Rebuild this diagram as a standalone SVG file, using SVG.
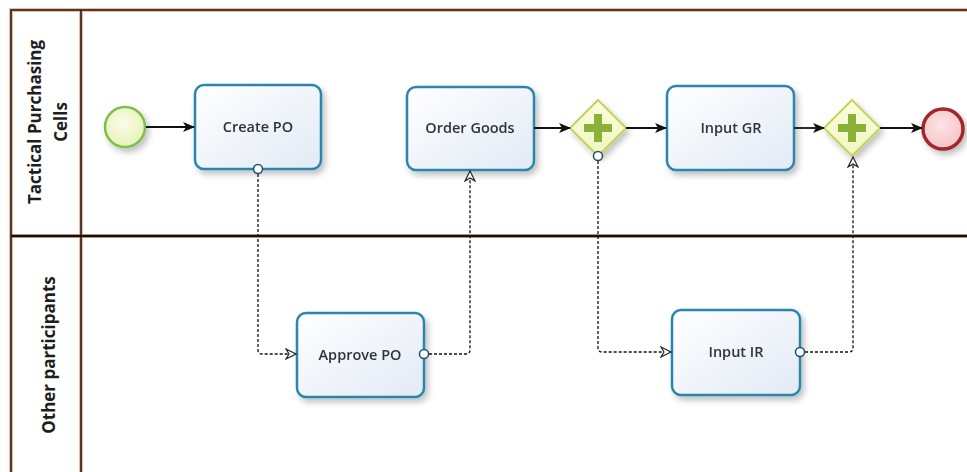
<svg xmlns="http://www.w3.org/2000/svg" width="967" height="472" viewBox="0 0 967 472">
<defs>
<linearGradient id="taskFill" x1="0" y1="0" x2="1" y2="1">
<stop offset="0" stop-color="#ffffff"/>
<stop offset="1" stop-color="#e2eaf5"/>
</linearGradient>
<radialGradient id="startFill" cx="0.45" cy="0.4" r="0.6">
<stop offset="0" stop-color="#fbfde8"/>
<stop offset="1" stop-color="#e6f2b8"/>
</radialGradient>
<radialGradient id="endFill" cx="0.45" cy="0.4" r="0.6">
<stop offset="0" stop-color="#fde4e6"/>
<stop offset="1" stop-color="#f6c4c8"/>
</radialGradient>
<linearGradient id="gwFill" x1="0" y1="0" x2="0" y2="1">
<stop offset="0" stop-color="#fbfde0"/>
<stop offset="1" stop-color="#f0f6c0"/>
</linearGradient>
<filter id="shadow" x="-20%" y="-20%" width="150%" height="150%">
<feGaussianBlur in="SourceAlpha" stdDeviation="3"/>
<feOffset dx="3" dy="4" result="b"/>
<feComponentTransfer><feFuncA type="linear" slope="0.25"/></feComponentTransfer>
<feMerge><feMergeNode/><feMergeNode in="SourceGraphic"/></feMerge>
</filter>
<marker id="seqArrow" markerWidth="12" markerHeight="10" refX="11" refY="5" orient="auto" markerUnits="userSpaceOnUse">
<path d="M0,0 L12,5 L0,10 L3,5 Z" fill="#111"/>
</marker>
<marker id="msgArrow" markerWidth="13" markerHeight="12" refX="11" refY="6" orient="auto" markerUnits="userSpaceOnUse">
<path d="M1,1 L11,6 L1,11 L4,6 Z" fill="#fff" stroke="#222" stroke-width="1.2"/>
</marker>
<marker id="msgStart" markerWidth="12" markerHeight="12" refX="6" refY="6" orient="auto" markerUnits="userSpaceOnUse">
<circle cx="6" cy="6" r="4.5" fill="#fff" stroke="#1d4f6a" stroke-width="1.5"/>
</marker>
</defs>
<style>
.halo{stroke:#f6b9a0;fill:none}
.frame{stroke:#111;fill:none}
.task rect{fill:url(#taskFill);stroke:#2b86ad;stroke-width:2.5}
.task text{font-family:"Open Sans","Noto Sans",sans-serif;font-size:14.5px;font-weight:600;fill:#2c3440;text-anchor:middle}
.lane{font-family:"Open Sans","Noto Sans",sans-serif;font-size:17px;font-weight:bold;fill:#1e1e1e;text-anchor:middle}
.seq{stroke:#111;stroke-width:1.8;fill:none;marker-end:url(#seqArrow)}
.msg{stroke:#111;stroke-width:1.3;stroke-dasharray:3,2;fill:none;marker-start:url(#msgStart);marker-end:url(#msgArrow)}
.gw path.d{fill:url(#gwFill);stroke:#c5d35a;stroke-width:2}
.gw path.p{fill:#8cb13a}
</style>
<rect width="967" height="472" fill="#ffffff"/>
<g id="pool">
<path class="halo" stroke-width="4" d="M11,472 V10 H967 M81,10 V472 M11,236 H967"/>
<path class="frame" stroke-width="1.5" d="M11,472 V10 H967 M81,10 V472"/>
<path class="frame" stroke-width="2.5" d="M11,236 H967"/>
</g>
<g id="lane-tactical">
<text class="lane" transform="translate(0,122) rotate(-90)"><tspan x="0" y="41">Tactical Purchasing</tspan><tspan x="0" y="67">Cells</tspan></text>
</g>
<g id="lane-other">
<text class="lane" transform="translate(0,355) rotate(-90)"><tspan x="0" y="55">Other participants</tspan></text>
</g>
<g id="start" filter="url(#shadow)">
<circle cx="125" cy="127" r="20" fill="url(#startFill)" stroke="#7cbf4a" stroke-width="2.5"/>
</g>
<g id="create-po" class="task" filter="url(#shadow)">
<rect x="195" y="85" width="126" height="84" rx="9"/>
<text x="258" y="132">Create PO</text>
</g>
<g id="order-goods" class="task" filter="url(#shadow)">
<rect x="407" y="87" width="127" height="83" rx="9"/>
<text x="470" y="133">Order Goods</text>
</g>
<g id="gateway1" class="gw" filter="url(#shadow)">
<path class="d" d="M598,100 L626,128 L598,156 L570,128 Z"/>
<path class="p" d="M594,114 h8 v10 h10 v8 h-10 v10 h-8 v-10 h-10 v-8 h10 Z"/>
</g>
<g id="input-gr" class="task" filter="url(#shadow)">
<rect x="667" y="86" width="127" height="84" rx="9"/>
<text x="731" y="133">Input GR</text>
</g>
<g id="gateway2" class="gw" filter="url(#shadow)">
<path class="d" d="M852,100 L880,128 L852,156 L824,128 Z"/>
<path class="p" d="M848,114 h8 v10 h10 v8 h-10 v10 h-8 v-10 h-10 v-8 h10 Z"/>
</g>
<g id="end" filter="url(#shadow)">
<circle cx="943" cy="129" r="20" fill="url(#endFill)" stroke="#a3262a" stroke-width="3.5"/>
</g>
<g id="approve-po" class="task" filter="url(#shadow)">
<rect x="297" y="313" width="127" height="84" rx="9"/>
<text x="360" y="360">Approve PO</text>
</g>
<g id="input-ir" class="task" filter="url(#shadow)">
<rect x="672" y="310" width="128" height="85" rx="9"/>
<text x="736" y="357">Input IR</text>
</g>
<g id="connectors">
<line class="seq" x1="146" y1="127" x2="194" y2="127"/>
<line class="seq" x1="534" y1="128" x2="570" y2="128"/>
<line class="seq" x1="626" y1="128" x2="666" y2="128"/>
<line class="seq" x1="794" y1="128" x2="824" y2="128"/>
<line class="seq" x1="880" y1="128" x2="922" y2="128"/>
<path class="msg" d="M258,169 V350 Q258,354 262,354 H296"/>
<path class="msg" d="M424,354 H466 Q470,354 470,350 V171"/>
<path class="msg" d="M598,156 V348 Q598,352 602,352 H671"/>
<path class="msg" d="M800,352 H849 Q853,352 853,348 V157"/>
</g>
</svg>
